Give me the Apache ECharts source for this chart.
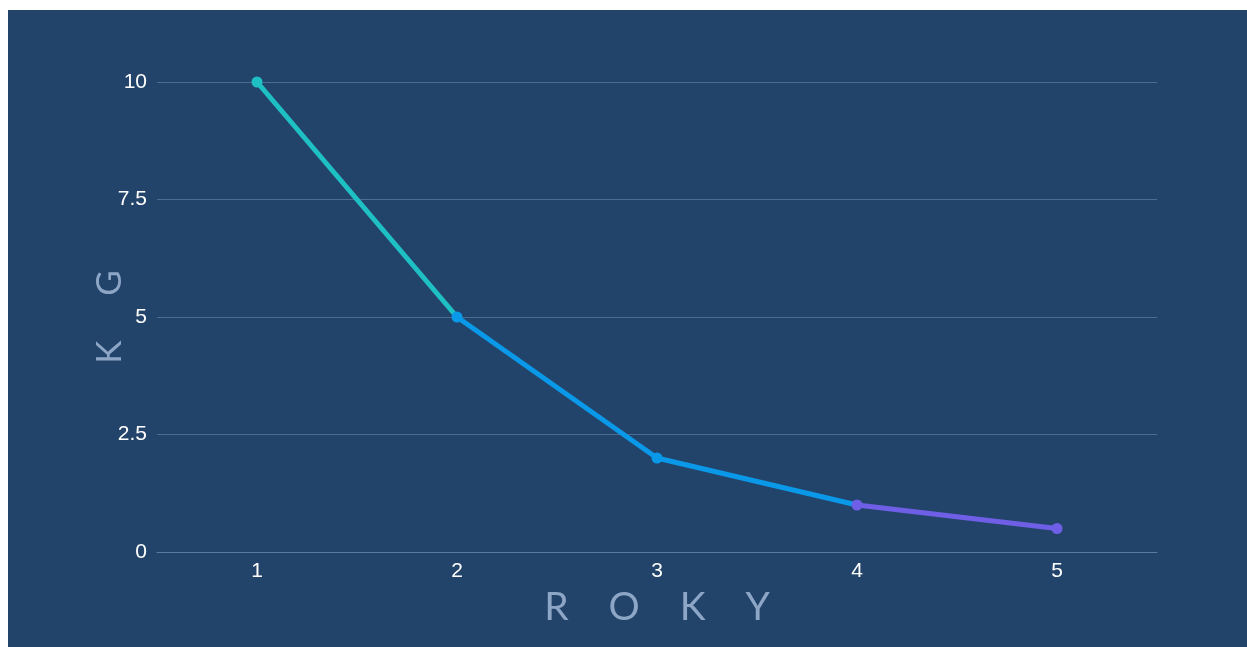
<!DOCTYPE html>
<html>
<head>
<meta charset="utf-8">
<script src="https://cdn.jsdelivr.net/npm/echarts@6/dist/echarts.min.js"></script>
<style>
html, body { margin: 0; padding: 0; background: #ffffff; }
#chart { position: absolute; left: 8px; top: 10px; width: 1239px; height: 637px; }
</style>
</head>
<body>
<div id="chart"></div>
<script>
// data
var years = ['1', '2', '3', '4', '5'];
var kg = [10, 5, 2, 1, 0.5];

var myChart = echarts.init(document.getElementById('chart'));
var option = {
	backgroundColor : '#22446a',
	animation : false,
	grid : {
		left : 149,
		right : 90,
		top : 72,
		bottom : 95
	},
	visualMap : {
		show : false,
		type : 'piecewise',
		dimension : 0,
		pieces : [
			{ lt : 1, color : '#1fc0c4' },
			{ gte : 1, lt : 3, color : '#0a98e8' },
			{ gte : 3, color : '#6f5ee6' }
		]
	},
	xAxis : {
		type : 'category',
		data : years,
		name : 'R    O    K    Y',
		nameLocation : 'middle',
		nameGap : 36,
		nameTextStyle : { color : '#8ea6c6', fontSize : 39, fontFamily : 'Lato' },
		axisLine : { lineStyle : { color : '#5b7a9e', width : 1 } },
		axisTick : { show : false },
		axisLabel : { color : '#ffffff', fontSize : 21, fontFamily : 'Liberation Sans', margin : 9 }
	},
	yAxis : {
		type : 'value',
		min : 0,
		max : 10,
		interval : 2.5,
		name : 'K     G',
		nameLocation : 'middle',
		nameGap : 30,
		nameMoveOverlap : false,
		nameRotate : 90,
		nameTextStyle : { color : '#8ea6c6', fontSize : 35, fontFamily : 'Lato' },
		axisLine : { show : false },
		axisTick : { show : false },
		axisLabel : { color : '#ffffff', fontSize : 21, fontFamily : 'Liberation Sans', margin : 10 },
		splitLine : { lineStyle : { color : '#4d6c91', width : 1 } }
	},
	series : [ {
		type : 'line',
		data : kg,
		symbol : 'circle',
		symbolSize : 11,
		lineStyle : { width : 5 }
	} ]
};
myChart.setOption(option);
</script>
</body>
</html>
